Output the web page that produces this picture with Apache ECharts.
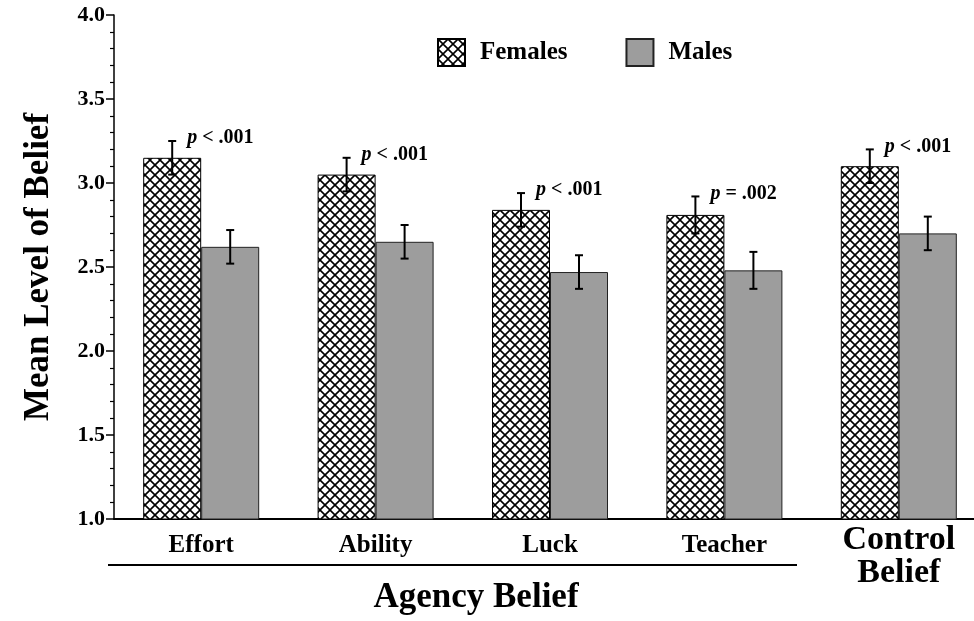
<!DOCTYPE html>
<html>
<head>
<meta charset="utf-8">
<script src="https://cdn.jsdelivr.net/npm/echarts@6/dist/echarts.min.js"></script>
<style>
  html, body { margin: 0; padding: 0; background: #fff; }
  #chart { width: 974px; height: 621px; }
</style>
</head>
<body>
<div id="chart"></div>
<script>
const categories = ['Effort', 'Ability', 'Luck', 'Teacher', 'Control Belief']
const femaleMeans = [3.15, 3.05, 2.84, 2.81, 3.10]
const femaleErrors = [0.10, 0.10, 0.10, 0.11, 0.10]
const maleMeans = [2.62, 2.65, 2.47, 2.48, 2.70]
const maleErrors = [0.10, 0.10, 0.10, 0.11, 0.10]
const pLabels = ['< .001', '< .001', '< .001', '= .002', '< .001']

const FONT = '"Liberation Serif", "Times New Roman", serif'
const BAR_W = 58

// crosshatch tile for the Females bars
function hatchTile() {
  const c = document.createElement('canvas')
  const s = 10
  c.width = s
  c.height = s
  const ctx = c.getContext('2d')
  ctx.fillStyle = '#fff'
  ctx.fillRect(0, 0, s, s)
  ctx.strokeStyle = '#000'
  ctx.lineWidth = 1.6
  for (const dx of [-s, 0, s]) {
    ctx.beginPath()
    ctx.moveTo(dx, 0)
    ctx.lineTo(dx + s, s)
    ctx.moveTo(dx + s, 0)
    ctx.lineTo(dx, s)
    ctx.stroke()
  }
  return c
}

const hatch = { image: hatchTile(), repeat: 'repeat' }

function errorBars(offset, withLabel) {
  return function (params, api) {
    const idx = api.value(0)
    const mean = api.value(1)
    const err = api.value(2)
    const top = api.coord([idx, mean + err])
    const bot = api.coord([idx, mean - err])
    const x = top[0] + offset
    const st = { stroke: '#000', lineWidth: 2 }
    const children = [
      { type: 'line', shape: { x1: x, y1: top[1], x2: x, y2: bot[1] }, style: st },
      { type: 'line', shape: { x1: x - 4, y1: top[1], x2: x + 4, y2: top[1] }, style: st },
      { type: 'line', shape: { x1: x - 4, y1: bot[1], x2: x + 4, y2: bot[1] }, style: st },
    ]
    if (withLabel) {
      children.push({
        type: 'text',
        x: x + 15,
        y: top[1] - 3,
        style: {
          text: '{i|p} ' + pLabels[idx],
          fontFamily: FONT,
          fontWeight: 'bold',
          fontSize: 20,
          fill: '#000',
          verticalAlign: 'middle',
          rich: { i: { fontStyle: 'italic', fontWeight: 'bold', fontFamily: FONT, fontSize: 20 } },
        },
      })
    }
    return { type: 'group', children }
  }
}

const chart = echarts.init(document.getElementById('chart'))
chart.setOption({
  animation: false,
  backgroundColor: '#fff',
  textStyle: { fontFamily: FONT, fontWeight: 'bold', color: '#000' },
  grid: { left: 114, top: 15, bottom: 102, width: 872, outerBoundsMode: 'none', containLabel: false },
  legend: {
    data: ['Females', 'Males'],
    left: 432,
    top: 33,
    itemWidth: 27,
    itemHeight: 27,
    itemGap: 58,
    icon: 'rect',
    textStyle: { fontFamily: FONT, fontWeight: 'bold', fontSize: 25, color: '#000', padding: [0, 0, 0, 10] },
  },
  xAxis: {
    type: 'category',
    data: categories,
    axisLine: { lineStyle: { color: '#000', width: 2 } },
    axisTick: { show: false },
    axisLabel: {
      interval: 0,
      margin: 5,
      color: '#000',
      formatter: v => v === 'Control Belief' ? '{big|Control}\n{big|Belief}' : '{sm|' + v + '}',
      rich: {
        sm: { fontFamily: FONT, fontWeight: 'bold', fontSize: 25, lineHeight: 44, color: '#000' },
        big: { fontFamily: FONT, fontWeight: 'bold', fontSize: 34, lineHeight: 33, color: '#000' },
      },
    },
  },
  yAxis: {
    type: 'value',
    min: 1,
    max: 4,
    interval: 0.5,
    name: 'Mean Level of Belief',
    nameLocation: 'middle',
    nameRotate: 90,
    nameGap: 58,
    nameTextStyle: { fontFamily: FONT, fontWeight: 'bold', fontSize: 35, color: '#000' },
    axisLine: { show: true, lineStyle: { color: '#000', width: 1.5 } },
    axisTick: { show: true, length: 8, lineStyle: { color: '#000', width: 1.5 } },
    minorTick: { show: true, splitNumber: 5, length: 4, lineStyle: { color: '#000', width: 1.2 } },
    splitLine: { show: false },
    axisLabel: {
      margin: 9,
      color: '#000',
      fontFamily: FONT,
      fontWeight: 'bold',
      fontSize: 22,
      formatter: v => v.toFixed(1),
    },
  },
  series: [
    {
      name: 'Females',
      type: 'bar',
      data: femaleMeans,
      barWidth: BAR_W,
      barGap: '0%',
      itemStyle: { color: hatch, borderColor: '#000', borderWidth: 1 },
    },
    {
      name: 'Males',
      type: 'bar',
      data: maleMeans,
      barWidth: BAR_W,
      itemStyle: { color: '#9d9d9d', borderColor: '#222', borderWidth: 1 },
    },
    {
      type: 'custom',
      z: 5,
      clip: false,
      renderItem: errorBars(-BAR_W / 2, true),
      data: femaleMeans.map((m, i) => [i, m, femaleErrors[i]]),
    },
    {
      type: 'custom',
      z: 5,
      clip: false,
      renderItem: errorBars(BAR_W / 2, false),
      data: maleMeans.map((m, i) => [i, m, maleErrors[i]]),
    },
  ],
  graphic: [
    {
      type: 'line',
      shape: { x1: 108, y1: 565, x2: 797, y2: 565 },
      style: { stroke: '#000', lineWidth: 2 },
    },
    {
      type: 'text',
      x: 476,
      y: 598,
      style: {
        text: 'Agency Belief',
        fontFamily: FONT,
        fontWeight: 'bold',
        fontSize: 35,
        fill: '#000',
        align: 'center',
        verticalAlign: 'middle',
      },
    },
  ],
})
</script>
</body>
</html>
